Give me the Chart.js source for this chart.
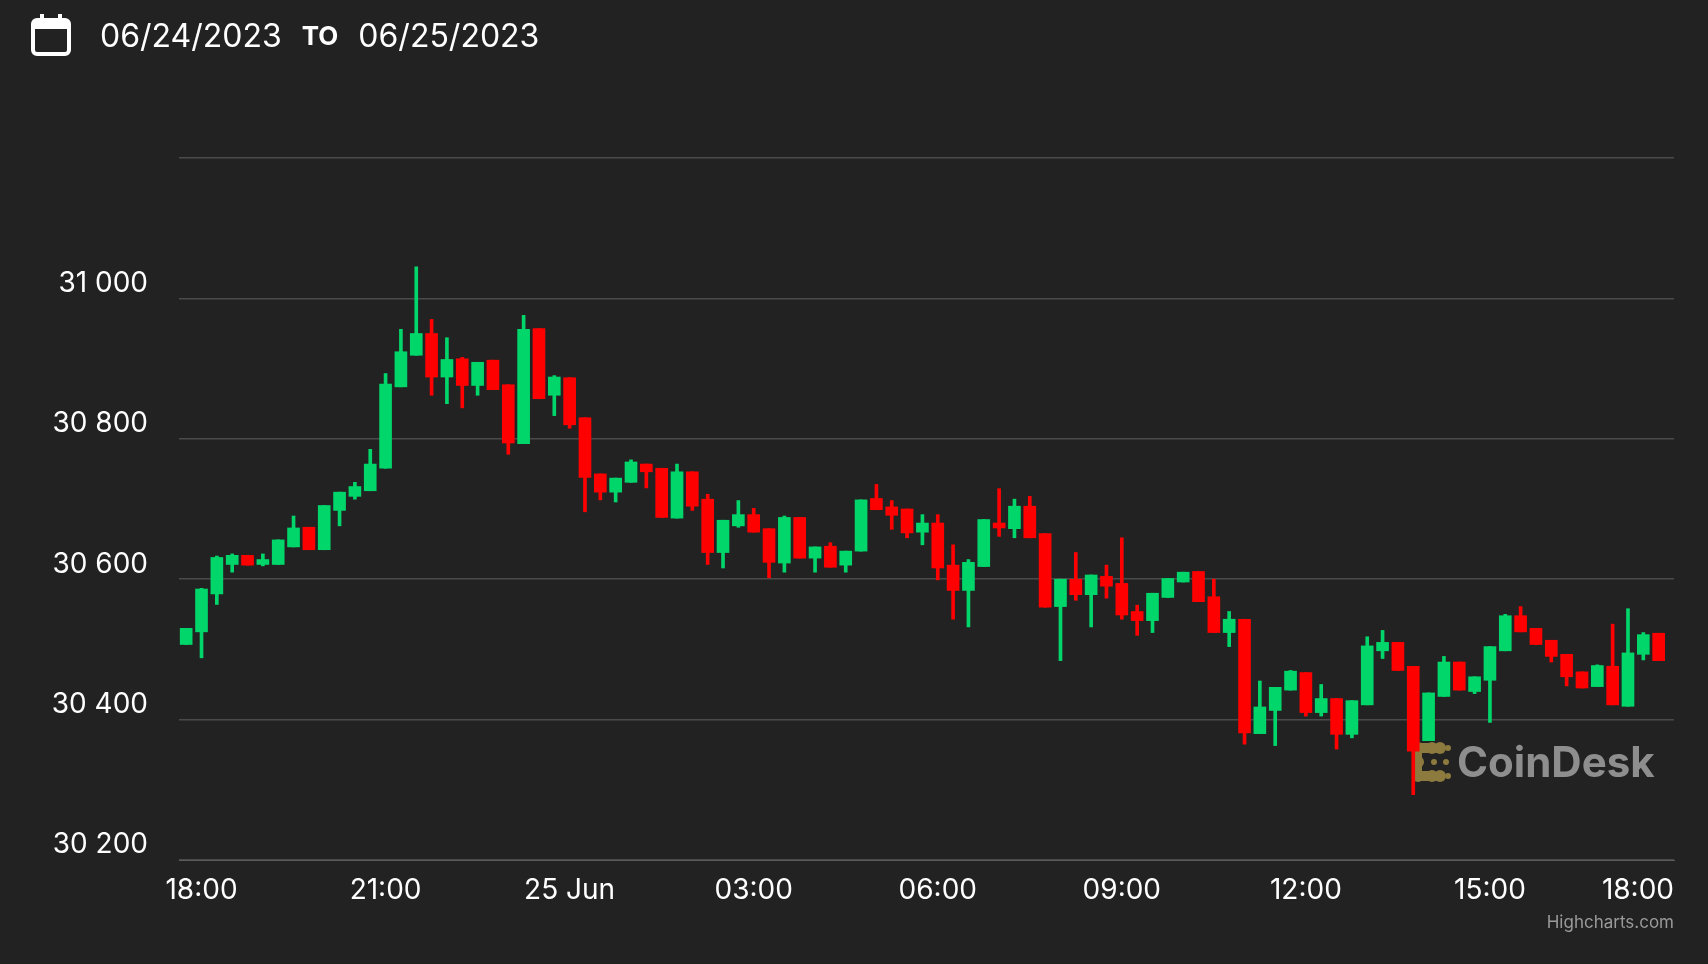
<!DOCTYPE html>
<html><head><meta charset="utf-8">
<script src="https://cdn.jsdelivr.net/npm/chart.js@4"></script>
<style>
html,body{margin:0;padding:0;background:#222222;overflow:hidden}
#wrap{position:relative;width:1708px;height:964px}
#hdr{position:absolute;left:30px;top:10px;height:50px;display:flex;align-items:center;color:#fff;font-family:Inter,"Noto Sans",sans-serif;font-size:32px}
#hdr .to{font-weight:700;font-size:26px;margin:0 20px}
</style></head><body>
<div id="wrap">
<div id="hdr">
<svg width="42" height="44" viewBox="0 0 42 44" style="margin-right:28px"><rect x="3" y="7" width="36" height="34" rx="4" fill="none" stroke="#fff" stroke-width="4"/><rect x="3" y="7" width="36" height="9" fill="#fff"/><rect x="10" y="1" width="4" height="8" fill="#fff"/><rect x="28" y="1" width="4" height="8" fill="#fff"/></svg>
<span>06/24/2023</span><span class="to">TO</span><span>06/25/2023</span>
</div>
<canvas id="c" width="1708" height="964"></canvas>
</div>
<script>
// 15-minute candles, first candle 24 Jun 17:45
const openV=[30507,30525,30579,30621,30634,30621,30621,30646,30674,30642,30698,30718,30726,30758,30874,30919,30950,30888,30914,30876,30912,30877,30793,30957,
30862,30887,30830,30750,30724,30738,30764,30758,30687,30753,30714,30638,30676,30692,30672,30623,30688,30630,30647,30620,30640,30715,30703,30700,
30667,30680,30620,30584,30618,30680,30672,30704,30665,30561,30600,30578,30604,30594,30554,30541,30574,30596,30611,30575,30524,30543,30380,30413,
30442,30467,30410,30430,30379,30421,30498,30510,30476,30370,30433,30482,30440,30456,30498,30548,30530,30513,30493,30468,30447,30476,30419,30493,30523];
const closeV=[30530,30586,30631,30634,30620,30628,30656,30673,30642,30705,30724,30732,30764,30878,30924,30950,30888,30913,30876,30909,30870,30794,30956,30857,
30888,30820,30745,30724,30744,30767,30753,30688,30753,30704,30638,30684,30692,30667,30624,30688,30630,30646,30617,30640,30713,30699,30691,30666,
30680,30616,30584,30624,30685,30673,30704,30659,30560,30600,30578,30606,30590,30549,30541,30580,30601,30610,30568,30524,30543,30381,30418,30446,
30469,30410,30430,30379,30427,30505,30510,30470,30355,30438,30482,30442,30461,30504,30548,30525,30507,30490,30461,30445,30477,30421,30495,30521,30484];
const highV=[30530,30587,30633,30636,30634,30636,30656,30690,30674,30705,30724,30738,30785,30893,30956,31045,30970,30944,30916,30909,30912,30877,30976,30957,
30890,30887,30830,30750,30744,30770,30764,30758,30764,30753,30721,30684,30712,30701,30672,30690,30688,30646,30652,30640,30713,30735,30712,30700,
30692,30692,30649,30628,30685,30729,30714,30718,30665,30600,30638,30606,30620,30659,30563,30580,30601,30610,30611,30600,30554,30543,30455,30446,
30470,30467,30450,30430,30427,30518,30527,30510,30476,30438,30490,30482,30461,30504,30550,30561,30530,30513,30493,30468,30478,30536,30558,30524,30523];
const lowV=[30507,30488,30564,30610,30620,30619,30621,30646,30642,30642,30676,30714,30726,30758,30874,30919,30862,30850,30844,30862,30870,30778,30793,30857,
30833,30815,30696,30713,30710,30738,30730,30688,30687,30698,30621,30616,30674,30667,30602,30610,30630,30610,30617,30610,30640,30699,30671,30659,
30649,30599,30543,30532,30618,30661,30659,30659,30560,30484,30570,30532,30573,30543,30520,30524,30574,30596,30568,30524,30504,30365,30380,30363,
30442,30405,30405,30358,30374,30421,30487,30470,30293,30370,30433,30442,30437,30396,30498,30525,30507,30482,30448,30445,30447,30421,30419,30485,30484];
const xTickVals=[0,3,6,9,12,15,18,21,24];
const xTickLabels=['18:00','21:00','25 Jun','03:00','06:00','09:00','12:00','15:00','18:00'];
const yTickVals=[30200,30400,30600,30800,31000];
const yTickLabels=['30 200','30 400','30 600','30 800','31 000'];

const GREEN='#00d66a',RED='#ff0000';
const xs=openV.map((_,i)=>i*0.25-0.25);
const cols=openV.map((o,i)=>closeV[i]>=o?GREEN:RED);
const wicks=xs.map((x,i)=>({x,y:[lowV[i],highV[i]]}));
const bodies=xs.map((x,i)=>{let a=Math.min(openV[i],closeV[i]),b=Math.max(openV[i],closeV[i]);if(b-a<2){a-=1;b+=1;}return {x,y:[a,b]};});

const F='Inter,"Noto Sans",sans-serif';
const deco={id:'deco',
 beforeDatasetsDraw(ch){
  const c=ch.ctx;c.save();
  c.fillStyle='#8c7a3e';
  const lx=1418,ly=748;
  [[0,0],[14,0],[0,14],[0,28],[14,28]].forEach(p=>{c.beginPath();c.arc(lx+p[0],ly+p[1],6,0,Math.PI*2);c.fill();});
  c.fillRect(lx,ly-5,14,10);c.fillRect(lx,ly+23,14,10);c.fillRect(lx-4,ly,8,28);
  [[22,0],[22,28]].forEach(p=>{c.beginPath();c.arc(lx+p[0],ly+p[1],6,0,Math.PI*2);c.fill();});
  [[16,14],[28,14],[30,0],[30,28]].forEach(p=>{c.beginPath();c.arc(lx+p[0],ly+p[1],3,0,Math.PI*2);c.fill();});
  c.fillStyle='#8e8e8e';c.font='bold 42px '+F;c.textBaseline='middle';c.textAlign='left';
  c.fillText('CoinDesk',1457,764);
  c.restore();
 },
 afterDraw(ch){
  const c=ch.ctx,x=ch.scales.x,y=ch.scales.y;c.save();
  c.fillStyle='#ffffff';c.font='28px '+F;
  c.textAlign='right';c.textBaseline='middle';
  yTickVals.forEach((v,i)=>c.fillText(yTickLabels[i],148,y.getPixelForValue(v)-15));
  c.textBaseline='top';
  xTickVals.forEach((v,i)=>{const px=x.getPixelForValue(v);
    if(i===xTickVals.length-1){c.textAlign='right';c.fillText(xTickLabels[i],1674,877);}
    else{c.textAlign='center';c.fillText(xTickLabels[i],px,877);}});
  c.fillStyle='#9a9a9a';c.font='17px '+F;c.textAlign='right';
  c.fillText('Highcharts.com',1674,914);
  c.restore();
 }};

new Chart(document.getElementById('c'),{
 type:'bar',
 data:{datasets:[
  {data:wicks,backgroundColor:cols,barThickness:3,grouped:false,order:2},
  {data:bodies,backgroundColor:cols,barThickness:12,grouped:false,order:1}
 ]},
 options:{responsive:false,animation:false,parsing:{xAxisKey:'x',yAxisKey:'y'},
  layout:{padding:{left:179,right:34,top:158,bottom:96}},
  plugins:{legend:{display:false},tooltip:{enabled:false}},
  scales:{
   x:{type:'linear',min:-0.367,max:24,offset:false,grid:{display:false},border:{display:true,color:'#5a5a5a'},ticks:{display:false}},
   y:{min:30200,max:31200,afterBuildTicks(s){s.ticks=[30200,30400,30600,30800,31000,31200].map(v=>({value:v}));},
      grid:{color:'#4a4a4a',lineWidth:1.5,drawTicks:false},border:{display:false},ticks:{display:false}}
  }},
 plugins:[deco]
});
</script>
</body></html>
